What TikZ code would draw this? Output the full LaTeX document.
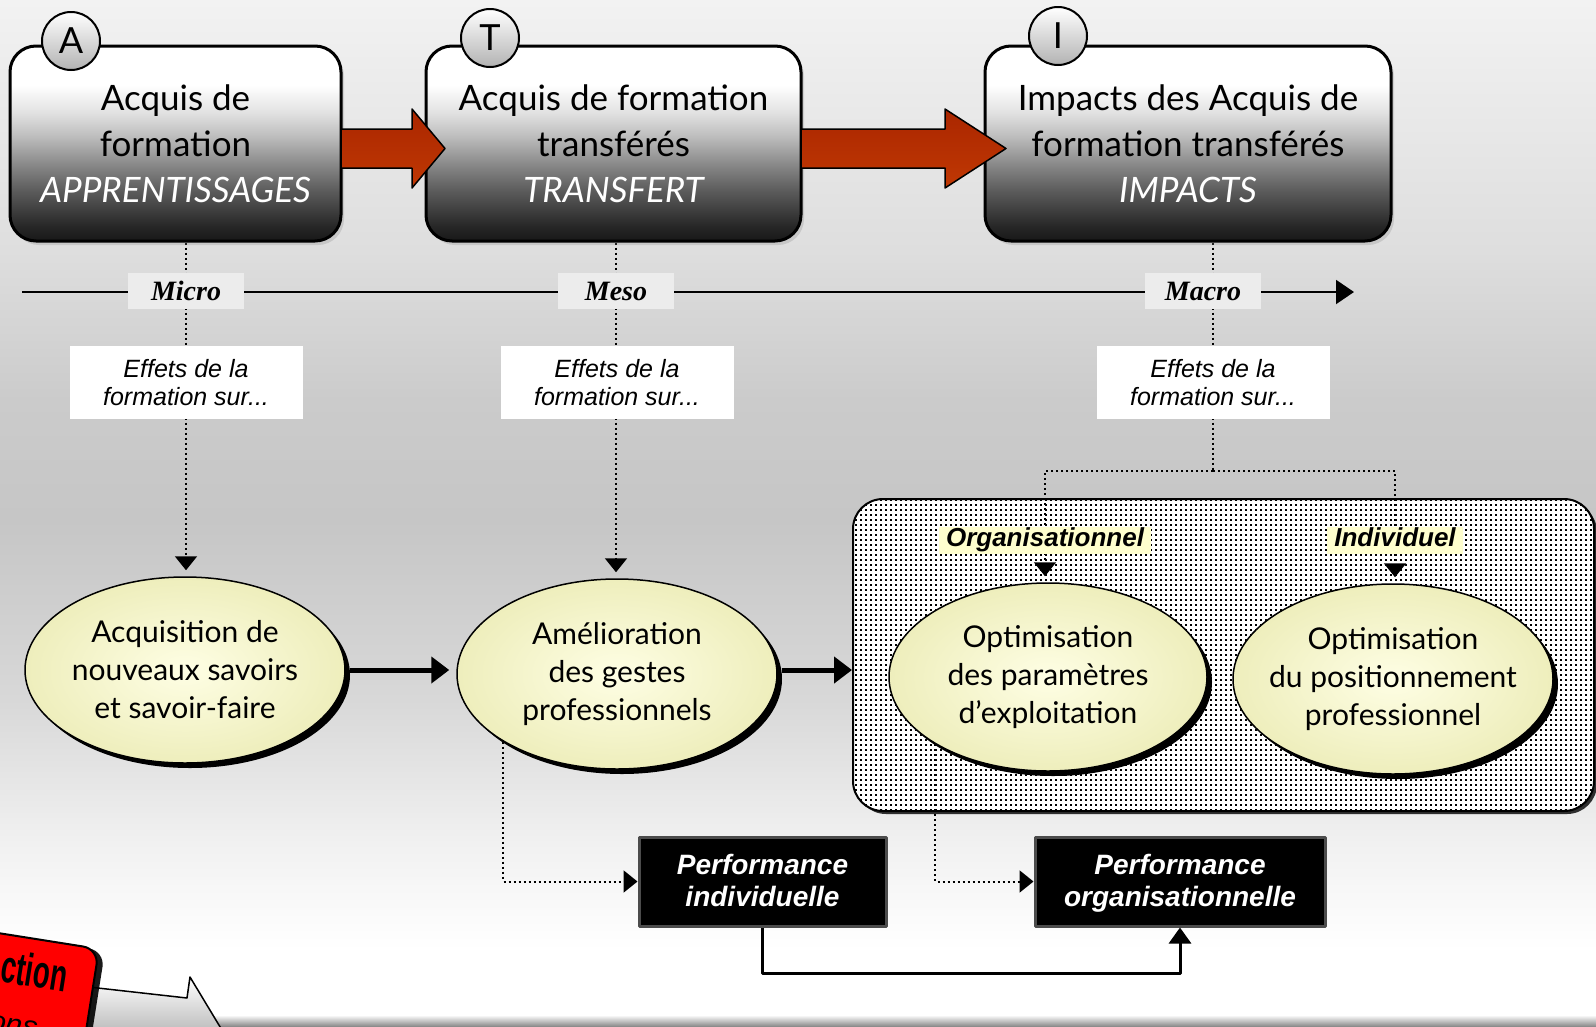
\documentclass[tikz,border=0pt]{standalone}
\usepackage{fontspec}
\setmainfont{Lato}
\newfontfamily\arialfont{Liberation Sans}
\newfontfamily\timesfont{Liberation Serif}
\usetikzlibrary{arrows.meta,shapes.geometric,shadows,patterns,calc}

\definecolor{bgA}{RGB}{242,242,242}
\definecolor{bgB}{RGB}{222,222,222}
\definecolor{bgC}{RGB}{203,203,203}
\definecolor{bgD}{RGB}{198,198,198}
\definecolor{bgE}{RGB}{216,216,216}
\definecolor{bgF}{RGB}{242,242,242}
\definecolor{stgA}{RGB}{24,24,24}
\definecolor{stgB}{RGB}{40,40,40}
\definecolor{stgC}{RGB}{92,92,92}
\definecolor{stgD}{RGB}{132,132,132}
\definecolor{stgE}{RGB}{190,190,190}
\definecolor{stgF}{RGB}{226,226,226}
\definecolor{lemon}{RGB}{255,255,206}
\definecolor{ellin}{RGB}{254,254,228}
\definecolor{ellout}{RGB}{238,238,188}
\definecolor{rustA}{RGB}{170,38,0}
\definecolor{rustB}{RGB}{226,66,4}
\definecolor{labelgray}{RGB}{236,236,236}

\pgfdeclareverticalshading{bgshade}{100bp}{color(0bp)=(white); color(25bp)=(white); color(28.7bp)=(white); color(33.6bp)=(bgF); color(40.9bp)=(bgE); color(49.7bp)=(bgD); color(55.5bp)=(bgC); color(62.8bp)=(bgB); color(75bp)=(bgA); color(100bp)=(bgA)}
\pgfdeclareverticalshading{stageshade}{100bp}{color(0bp)=(stgA); color(25bp)=(stgA); color(29bp)=(stgB); color(38bp)=(stgC); color(44bp)=(stgD); color(52bp)=(stgE); color(58bp)=(stgF); color(65bp)=(white); color(100bp)=(white)}
\pgfdeclarepatternformonly{sqdots}{\pgfqpoint{-1pt}{-1pt}}{\pgfqpoint{6pt}{6pt}}{\pgfqpoint{5pt}{5pt}}{\pgfpathrectangle{\pgfpointorigin}{\pgfqpoint{2.3pt}{2.3pt}}\pgfusepath{fill}}
\pgfdeclarelayer{bgfill}
\pgfdeclarelayer{lines}
\pgfsetlayers{bgfill,lines,main}

\newcommand{\redarrow}[4]{\draw[redarr] (#1,#3-19.5) -- (#2-#4,#3-19.5) -- (#2-#4,#3-39.5) -- (#2,#3) -- (#2-#4,#3+39.5) -- (#2-#4,#3+19.5) -- (#1,#3+19.5) -- cycle;}

\begin{document}
\begin{tikzpicture}[x=1pt,y=-1pt,line join=round]
	\tikzset{
		stagebox/.style={draw=black,line width=3pt,rounded corners=26pt,shade,shading=stageshade,minimum height=195pt,align=center,font=\fontsize{35}{46}\selectfont,drop shadow={opacity=0.25,shadow xshift=3pt,shadow yshift=-4pt}},
		stageletter/.style={circle,draw=black,line width=2pt,top color=white,middle color=white,bottom color=black!30,minimum size=58pt,inner sep=0pt,font=\fontsize{36}{36}\selectfont},
		redarr/.style={draw=black,line width=1.5pt,top color=rustA,middle color=rustB,bottom color=rustB!85!black},
		scalelabel/.style={fill=labelgray,minimum width=116pt,minimum height=36pt,inner sep=0pt,font=\timesfont\bfseries\itshape\fontsize{28}{30}\selectfont},
		effets/.style={fill=white,minimum width=233pt,minimum height=73pt,inner sep=0pt,align=center,font=\arialfont\itshape\fontsize{25}{28.5}\selectfont},
		etape/.style={ellipse,draw=black,line width=1.5pt,inner color=ellin,outer color=ellout,inner xsep=-16pt,inner ysep=0pt,align=center,font=\fontsize{30}{38}\selectfont,drop shadow={fill=black,opacity=1,shadow xshift=5pt,shadow yshift=-5pt}},
		zone/.style={draw=black,line width=2pt,rounded corners=30pt,fill=white,postaction={pattern=sqdots},minimum width=741pt,minimum height=312pt,drop shadow={fill=black,opacity=0.8,shadow xshift=3pt,shadow yshift=-3pt}},
		pointlabel/.style={fill=lemon,inner xsep=7pt,inner ysep=1pt,text height=19pt,text depth=6pt,font=\arialfont\bfseries\itshape\fontsize{26}{28}\selectfont},
		perf/.style={fill=black,draw=black!70,line width=3pt,text=white,align=center,minimum height=89pt,text depth=2pt,font=\arialfont\bfseries\itshape\fontsize{28}{32}\selectfont},
		dotline/.style={line width=2pt,line cap=butt,dash pattern=on 2pt off 3pt},
		dotarrow/.style={dotline,-{Triangle[length=14pt,width=22pt]}},
		thickarrow/.style={line width=5pt,-{Triangle[length=18pt,width=26pt]}},
		linkarrow/.style={line width=3pt,-{Triangle[length=16pt,width=22pt]}},
		axisline/.style={line width=2pt,-{Triangle[length=18pt,width=24pt]}}
	}
	\useasboundingbox (0,0) rectangle (1596,1026);
	\begin{pgfonlayer}{bgfill}
		\shade[shading=bgshade] (0,0) rectangle (1596,1026);
		\shade[top color=white,bottom color=black!45] (215,1015) rectangle (1596,1026);
		\node[zone] (zone) at (1223.5,655) {};
	\end{pgfonlayer}

	\node[stagebox,minimum width=331pt] (boxA) at (175.5,143.5) {Acquis de\\formation\\{\itshape\color{white}APPRENTISSAGES}};
	\node[stagebox,minimum width=375pt] (boxT) at (613.5,143.5) {Acquis de formation\\transférés\\{\itshape\color{white}TRANSFERT}};
	\node[stagebox,minimum width=406pt] (boxI) at (1188,143.5) {Impacts des Acquis de\\formation transférés\\{\itshape\color{white}IMPACTS}};
	\node[stageletter] (circA) at (71,41) {A};
	\node[stageletter] (circT) at (490,38) {T};
	\node[stageletter] (circI) at (1058,36) {I};
	\redarrow{341}{445}{148.5}{33}
	\redarrow{801}{1006}{148.5}{61}

	\coordinate (axisstart) at (22,292);
	\coordinate (axisend) at (1354,292);
	\node[scalelabel] (micro) at (186,291) {Micro};
	\node[scalelabel] (meso) at (616,291) {Meso};
	\node[scalelabel] (macro) at (1203,291) {Macro};
	\node[effets] (effA) at (186,382.5) {Effets de la\\formation sur...};
	\node[effets] (effT) at (617,382.5) {Effets de la\\formation sur...};
	\node[effets] (effI) at (1213,382.5) {Effets de la\\formation sur...};

	\node[etape,minimum width=320pt,minimum height=186pt] (acq) at (185,670) {Acquisition de\\nouveaux savoirs\\et savoir-faire};
	\node[etape,minimum width=320pt,minimum height=190pt] (amel) at (617,674) {Amélioration\\des gestes\\professionnels};
	\node[etape,minimum width=318pt,minimum height=188pt] (optexp) at (1048,677) {Optimisation\\des paramètres\\d’exploitation};
	\node[etape,minimum width=320pt,minimum height=190pt] (optpos) at (1393,679) {Optimisation\\du positionnement\\professionnel};
	\node[pointlabel] (orgl) at (1045,540) {Organisationnel};
	\node[pointlabel] (indl) at (1395,540) {Individuel};
	\node[perf,minimum width=247pt] (perfind) at (762.5,881.5) {Performance\\individuelle};
	\node[perf,minimum width=290pt] (perforg) at (1180,881.5) {Performance\\organisationnelle};

	\begin{pgfonlayer}{lines}
		\draw[axisline] (axisstart) -- (axisend);
		\draw[dotarrow,shorten >=6pt] (micro |- boxA.south) -- (micro |- acq.north);
		\draw[dotarrow,shorten >=6pt] (meso |- boxT.south) -- (meso |- amel.north);
		\coordinate (branch) at (effI |- 0,471);
		\draw[dotline] (effI |- boxI.south) -- (branch);
		\draw[dotarrow,shorten >=6pt] (branch) -| (orgl |- optexp.north);
		\draw[dotarrow,shorten >=6pt] (branch) -| (indl |- optpos.north);
		\draw[dotarrow] (amel.south west) |- (perfind.west);
		\draw[dotarrow] (optexp.south west) |- (perforg.west);
	\end{pgfonlayer}
	\draw[thickarrow,shorten <=4pt,shorten >=7pt] (acq.east) -- (acq.east -| amel.west);
	\draw[thickarrow,shorten <=4pt] ([yshift=4pt]amel.east) -- ([yshift=4pt]amel.east -| zone.west);
	\draw[linkarrow] (perfind.south) -- ++(0,46) -| (perforg.south);

	\begin{scope}
		\clip (0,0) rectangle (1596,1026);
		\draw[line width=1.5pt,top color=white,bottom color=black!35] (80,986) -- (187,998) -- (190,977) -- (234,1050) -- (80,1050) -- cycle;
		\begin{scope}[shift={(99,949)},rotate=-9]
			\draw[line width=2pt,fill=red,rounded corners=16pt,drop shadow={fill=black,opacity=0.9,shadow xshift=6pt,shadow yshift=-2pt}] (-300,0) rectangle (0,200);
			\node[transform shape,xscale=0.6,anchor=base east,inner sep=0pt,font=\arialfont\bfseries\fontsize{46}{46}\selectfont] (redword) at (-27,48) {ction};
			\node[transform shape,anchor=base east,inner sep=0pt,font=\arialfont\itshape\fontsize{30}{30}\selectfont] (redsub) at (-48,98) {ons};
		\end{scope}
	\end{scope}
\end{tikzpicture}
\end{document}
